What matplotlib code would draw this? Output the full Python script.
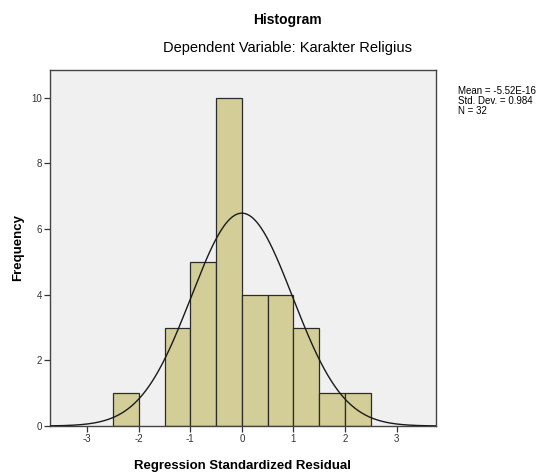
import numpy as np
import matplotlib
matplotlib.use("Agg")
import matplotlib.pyplot as plt

plt.rcParams['font.family'] = ['Liberation Sans', 'DejaVu Sans']
plt.rcParams['axes.unicode_minus'] = False

bin_edges = [-2.5, -2.0, -1.5, -1.0, -0.5, 0.0, 0.5, 1.0, 1.5, 2.0, 2.5]
counts = [1, 0, 3, 5, 10, 4, 4, 3, 1, 1]
mean = -5.52e-16
std_dev = 0.984
n = 32
x_ticks = [-3, -2, -1, 0, 1, 2, 3]
y_ticks = [0, 2, 4, 6, 8, 10]

fig = plt.figure(figsize=(5.38, 4.76), dpi=100)
ax = fig.add_axes([0.093, 0.105, 0.717, 0.748])
ax.set_facecolor('#f0f0f0')

lefts = bin_edges[:-1]
widths = np.diff(bin_edges)
for l, w, c in zip(lefts, widths, counts):
    if c > 0:
        ax.bar(l, c, width=w, align='edge', color='#d3ce97',
               edgecolor='#2b2b2b', linewidth=0.9, zorder=2)

# normal curve scaled to counts
bw = widths[0]
xs = np.linspace(-3.72, 3.76, 400)
ys = n * bw * np.exp(-0.5 * ((xs - mean) / std_dev) ** 2) / (std_dev * np.sqrt(2 * np.pi))
ax.plot(xs, ys, color='#1a1a1a', linewidth=1.0, zorder=3)

ax.set_xlim(-3.72, 3.76)
ax.set_ylim(0, 10.85)
ax.set_xticks(x_ticks)
ax.set_yticks(y_ticks)
ax.tick_params(direction='out', length=4, width=0.9, labelsize=7,
               colors='#333333', pad=2)
for s in ax.spines.values():
    s.set_color('#444444')
    s.set_linewidth(1.0)

ax.set_xlabel('Regression Standardized Residual', fontsize=9.5,
              fontweight='bold', labelpad=11)
ax.set_ylabel('Frequency', fontsize=9.5, fontweight='bold', labelpad=5)

fig.text(0.535, 0.958, 'Histogram', ha='center', va='center',
         fontsize=10, fontweight='bold')
fig.text(0.535, 0.900, 'Dependent Variable: Karakter Religius',
         ha='center', va='center', fontsize=10.5)

fig.text(0.851, 0.788,
         'Mean = -5.52E-16\nStd. Dev. = 0.984\nN = 32',
         ha='left', va='center', fontsize=7, linespacing=1.0)

fig.savefig('out.png', dpi=100)
